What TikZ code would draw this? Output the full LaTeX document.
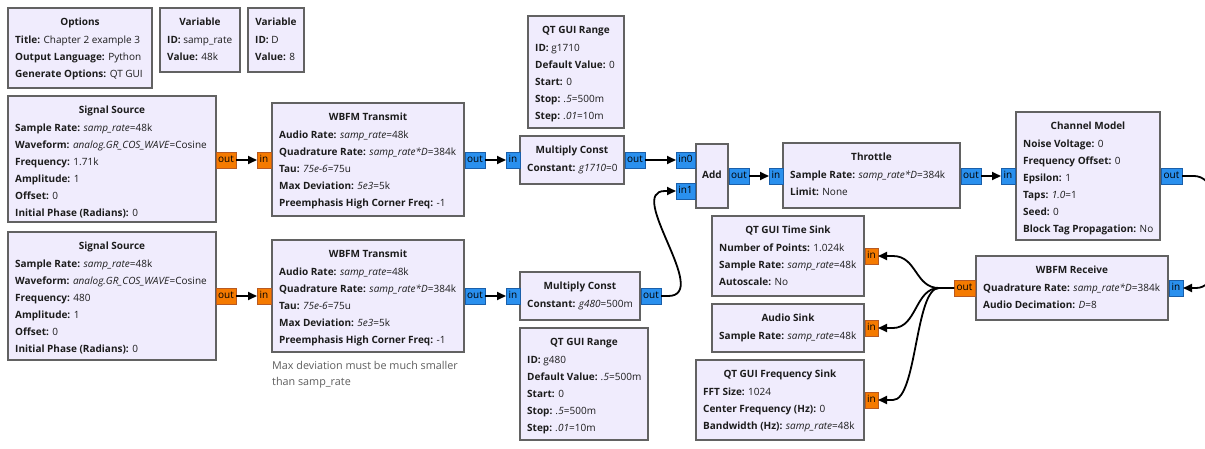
\documentclass[tikz,border=0pt]{standalone}
\usepackage{fontspec}
\IfFontExistsTF{Open Sans Bold}{\setmainfont{Open Sans}}{\setmainfont{Noto Sans}[BoldFont={Noto Sans},BoldFeatures={FakeBold=2.2}]}
\usetikzlibrary{calc,arrows.meta}
\definecolor{blkfill}{HTML}{F0ECFD}
\definecolor{blkborder}{HTML}{626262}
\definecolor{txt}{HTML}{1C1C1C}
\definecolor{orfill}{HTML}{F57A00}
\definecolor{ordraw}{HTML}{B85A22}
\definecolor{blfill}{HTML}{2A90EE}
\definecolor{bldraw}{HTML}{1A5FAA}
\definecolor{cmt}{HTML}{5E5E5E}
\newcommand\kvp[2]{\textbf{#1:} #2}
\newcommand\ex[1]{\textit{#1}}
\tikzset{
  blk/.style={draw=blkborder, line width=2pt, fill=blkfill, inner sep=0pt, outer sep=0pt, anchor=north west},
  ttl/.style={font=\fontsize{10}{12}\selectfont\bfseries, text=txt, inner sep=0pt, text height=7pt, text depth=2pt},
  ln/.style={font=\fontsize{10}{12}\selectfont, text=txt, inner sep=0pt, anchor=west, text height=7pt, text depth=2pt},
  cmtline/.style={font=\fontsize{10.8}{12}\selectfont, text=cmt, inner sep=0pt, anchor=west, text height=7pt, text depth=2pt},
  porto/.style={draw=ordraw, fill=orfill, line width=1pt, inner sep=0pt, outer sep=0pt, font=\fontsize{10}{12}\selectfont, text=black, text height=7pt, text depth=2pt},
  portb/.style={draw=bldraw, fill=blfill, line width=1pt, inner sep=0pt, outer sep=0pt, font=\fontsize{10}{12}\selectfont, text=black, text height=7pt, text depth=2pt},
  conn/.style={draw=black, line width=1.8pt, -{Triangle[length=9pt,width=8pt]}},
}
% name, x, y, w, h, title, lines
\newcommand\blkk[7]{%
  \node[blk, minimum width=#4pt, minimum height=#5pt] (#1) at (#2,#3) {};
  \node[ttl] (#1-t) at ($(#1.north)+(0,15)$) {#6};
  \foreach \lntxt [count=\i] in {#7} {
    \node[ln] (#1-\i) at ($(#1.north west)+(7,{33+17*(\i-1)})$) {\lntxt};
  }%
}
% name, style, x, y, w, label
\newcommand\prt[6]{%
  \node[#2, minimum width=#5pt, minimum height=16pt, anchor=north west] (#1) at (#3,#4) {#6};%
}
\begin{document}
\begin{tikzpicture}[x=1pt,y=-1pt]
\useasboundingbox (0,0) rectangle (1205,448);
\fill[white] (0,0) rectangle (1205,448);
\clip (0,0) rectangle (1205,448);

% top variables
\blkk{opt}{8}{8}{144}{80}{Options}{\kvp{Title}{Chapter 2 example 3},\kvp{Output Language}{Python},\kvp{Generate Options}{QT GUI}}
\blkk{var1}{160}{8}{80}{64}{Variable}{\kvp{ID}{samp\_rate},\kvp{Value}{48k}}
\blkk{var2}{248}{8}{56}{64}{Variable}{\kvp{ID}{D},\kvp{Value}{8}}

% upper chain
\blkk{ss1}{8}{96}{208}{126}{Signal Source}{\kvp{Sample Rate}{\ex{samp\_rate}=48k},\kvp{Waveform}{\ex{analog.GR\_COS\_WAVE}=Cosine},\kvp{Frequency}{1.71k},\kvp{Amplitude}{1},\kvp{Offset}{0},\kvp{Initial Phase (Radians)}{0}}
\blkk{wt1}{272}{103}{192}{113}{WBFM Transmit}{\kvp{Audio Rate}{\ex{samp\_rate}=48k},\kvp{Quadrature Rate}{\ex{samp\_rate*D}=384k},\kvp{Tau}{\ex{75e-6}=75u},\kvp{Max Deviation}{\ex{5e3}=5k},\kvp{Preemphasis High Corner Freq}{-1}}
\blkk{qr1}{528}{16}{96}{112}{QT GUI Range}{\kvp{ID}{g1710},\kvp{Default Value}{0},\kvp{Start}{0},\kvp{Stop}{\ex{.5}=500m},\kvp{Step}{\ex{.01}=10m}}
\blkk{mc1}{520}{136}{104}{48}{Multiply Const}{\kvp{Constant}{\ex{g1710}=0}}
\node[blk, minimum width=32pt, minimum height=64pt] (add) at (696,144) {};
\node[ttl] (add-t) at (add.center) {Add};
\blkk{thr}{783}{143}{177}{65}{Throttle}{\kvp{Sample Rate}{\ex{samp\_rate*D}=384k},\kvp{Limit}{None}}
\blkk{ch}{1016}{112}{144}{128}{Channel Model}{\kvp{Noise Voltage}{0},\kvp{Frequency Offset}{0},\kvp{Epsilon}{1},\kvp{Taps}{\ex{1.0}=1},\kvp{Seed}{0},\kvp{Block Tag Propagation}{No}}

% lower chain
\blkk{ss2}{8}{232}{208}{128}{Signal Source}{\kvp{Sample Rate}{\ex{samp\_rate}=48k},\kvp{Waveform}{\ex{analog.GR\_COS\_WAVE}=Cosine},\kvp{Frequency}{480},\kvp{Amplitude}{1},\kvp{Offset}{0},\kvp{Initial Phase (Radians)}{0}}
\blkk{wt2}{272}{240}{192}{112}{WBFM Transmit}{\kvp{Audio Rate}{\ex{samp\_rate}=48k},\kvp{Quadrature Rate}{\ex{samp\_rate*D}=384k},\kvp{Tau}{\ex{75e-6}=75u},\kvp{Max Deviation}{\ex{5e3}=5k},\kvp{Preemphasis High Corner Freq}{-1}}
\node[cmtline] (cm1) at (272,367) {Max deviation must be much smaller};
\node[cmtline] (cm2) at (272,383) {than samp\_rate};
\blkk{mc2}{520}{272}{120}{48}{Multiply Const}{\kvp{Constant}{\ex{g480}=500m}}
\blkk{qr2}{520}{328}{128}{112}{QT GUI Range}{\kvp{ID}{g480},\kvp{Default Value}{\ex{.5}=500m},\kvp{Start}{0},\kvp{Stop}{\ex{.5}=500m},\kvp{Step}{\ex{.01}=10m}}

% receiver side
\blkk{ts}{712}{216}{152}{80}{QT GUI Time Sink}{\kvp{Number of Points}{1.024k},\kvp{Sample Rate}{\ex{samp\_rate}=48k},\kvp{Autoscale}{No}}
\blkk{as}{712}{304}{152}{48}{Audio Sink}{\kvp{Sample Rate}{\ex{samp\_rate}=48k}}
\blkk{fs}{696}{360}{168}{80}{QT GUI Frequency Sink}{\kvp{FFT Size}{1024},\kvp{Center Frequency (Hz)}{0},\kvp{Bandwidth (Hz)}{\ex{samp\_rate}=48k}}
\blkk{rx}{976}{256}{192}{64}{WBFM Receive}{\kvp{Quadrature Rate}{\ex{samp\_rate*D}=384k},\kvp{Audio Decimation}{\ex{D}=8}}

% ports
\prt{ss1-out}{porto}{216}{152}{20}{out}
\prt{wt1-in}{porto}{257}{152}{14}{in}
\prt{wt1-out}{portb}{465}{152}{20}{out}
\prt{mc1-in}{portb}{506}{152}{14}{in}
\prt{mc1-out}{portb}{625}{152}{20}{out}
\prt{add-in0}{portb}{676}{152}{19}{in0}
\prt{add-in1}{portb}{676}{183}{19}{in1}
\prt{add-out}{portb}{729}{168}{20}{out}
\prt{thr-in}{portb}{769}{168}{14}{in}
\prt{thr-out}{portb}{961}{168}{20}{out}
\prt{ch-in}{portb}{1001}{168}{14}{in}
\prt{ch-out}{portb}{1161}{168}{21}{out}
\prt{ss2-out}{porto}{216}{288}{20}{out}
\prt{wt2-in}{porto}{257}{288}{14}{in}
\prt{wt2-out}{portb}{465}{288}{20}{out}
\prt{mc2-in}{portb}{506}{288}{14}{in}
\prt{mc2-out}{portb}{641}{288}{20}{out}
\prt{rx-in}{portb}{1169}{280}{14}{in}
\prt{rx-out}{porto}{954}{280}{21}{out}
\prt{ts-in}{porto}{865}{248}{13}{in}
\prt{as-in}{porto}{865}{320}{13}{in}
\prt{fs-in}{porto}{865}{392}{13}{in}

% connections
\draw[conn] (ss1-out.east) -- (wt1-in.west);
\draw[conn] (wt1-out.east) -- (mc1-in.west);
\draw[conn] (mc1-out.east) -- (add-in0.west);
\draw[conn] (add-out.east) -- (thr-in.west);
\draw[conn] (thr-out.east) -- (ch-in.west);
\draw[conn] (ch-out.east) -- ++(12,0) .. controls +(36,0) and (1232,288) .. (1196,288) -- (rx-in.east);
\draw[conn] (ss2-out.east) -- (wt2-in.west);
\draw[conn] (wt2-out.east) -- (mc2-in.west);
\draw[conn] (mc2-out.east) -- ++(7,0) .. controls (712,296) and (625,191) .. (665,191) -- (add-in1.west);
\coordinate (rxstub) at ($(rx-out.west)+(-15,0)$);
\draw[conn] (rx-out.west) -- (rxstub) .. controls +(-24,0) and (917,256) .. (893,256) -- (ts-in.east);
\draw[conn] (rx-out.west) -- (rxstub) .. controls +(-24,0) and (917,328) .. (893,328) -- (as-in.east);
\draw[conn] (rx-out.west) -- (rxstub) .. controls +(-24,0) and (917,400) .. (893,400) -- (fs-in.east);
\end{tikzpicture}
\end{document}
